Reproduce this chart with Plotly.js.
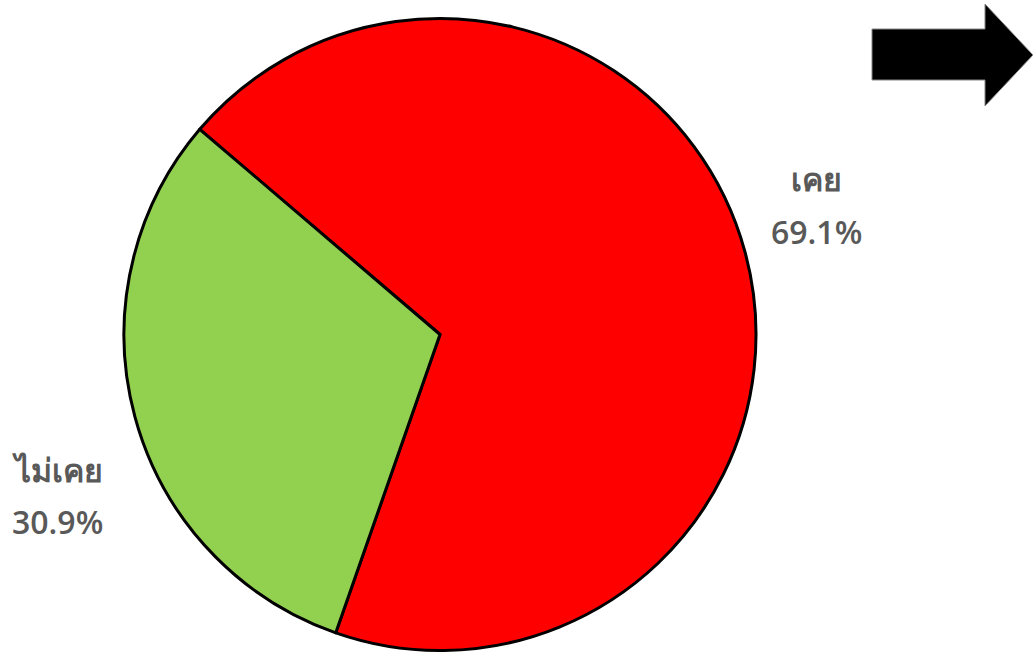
<!DOCTYPE html>
<html>
<head>
<meta charset="utf-8">
<script src="https://cdn.plot.ly/plotly-3.0.1.min.js"></script>
<style>html,body{margin:0;padding:0;background:#fff;}#chart{width:1033px;height:652px;}</style>
</head>
<body>
<div id="chart"></div>
<script>
const categories = ['เคย', 'ไม่เคย'];
const values = [69.1, 30.9];
const colors = ['#FF0000', '#92D050'];

const W = 1033, H = 652;
function px(x){ return x / W; }
function py(y){ return 1 - y / H; }

const total = values.reduce((a, b) => a + b, 0);
const pct = values.map(v => (v / total * 100).toFixed(1) + '%');

const labelPos = [
  {name: [816, 178], pct: [816, 232]},
  {name: [57, 470], pct: [57, 521]}
];

const labelFont = {family: 'Open Sans, Noto Sans, sans-serif', size: 32, color: '#595959', weight: 600};

const annotations = [];
categories.forEach((c, i) => {
  annotations.push({text: c, xref: 'paper', yref: 'paper', x: px(labelPos[i].name[0]), y: py(labelPos[i].name[1]),
    xanchor: 'center', yanchor: 'middle', showarrow: false, font: labelFont});
  annotations.push({text: pct[i], xref: 'paper', yref: 'paper', x: px(labelPos[i].pct[0]), y: py(labelPos[i].pct[1]),
    xanchor: 'center', yanchor: 'middle', showarrow: false, font: labelFont});
});

const arrowPts = [[872,29],[985,29],[985,4],[1033,55],[985,106],[985,80],[872,80]];
const arrowPath = 'M ' + arrowPts.map(p => px(p[0]).toFixed(5) + ',' + py(p[1]).toFixed(5)).join(' L ') + ' Z';

const data = [{
  type: 'pie',
  labels: categories,
  values: values,
  sort: false,
  direction: 'clockwise',
  rotation: -49.5,
  textinfo: 'none',
  hoverinfo: 'label+percent',
  marker: {colors: colors, line: {color: '#000000', width: 3}},
  domain: {x: [px(124), px(756)], y: [py(651), py(18)]}
}];

const layout = {
  width: W, height: H,
  margin: {l: 0, r: 0, t: 0, b: 0},
  paper_bgcolor: '#ffffff',
  showlegend: false,
  annotations: annotations,
  shapes: [{type: 'path', xref: 'paper', yref: 'paper', path: arrowPath,
    fillcolor: '#000000', line: {color: '#888888', width: 1}}]
};

Plotly.newPlot('chart', data, layout, {displayModeBar: false});
</script>
</body>
</html>
